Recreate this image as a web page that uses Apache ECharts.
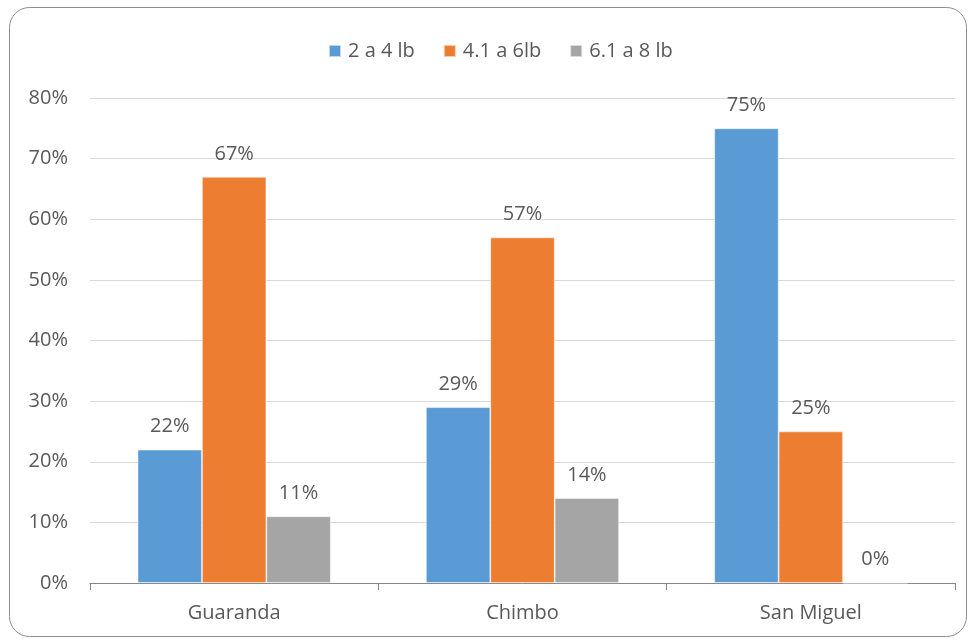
<!DOCTYPE html>
<html>
<head>
<meta charset="utf-8">
<script src="https://cdn.jsdelivr.net/npm/echarts@6/dist/echarts.min.js"></script>
<style>
  html, body { margin: 0; padding: 0; background: #fff; }
  #chart { width: 969px; height: 641px; }
</style>
</head>
<body>
<div id="chart"></div>
<script>
// Weight ranges by canton (share of animals in each range)
const categories = ['Guaranda', 'Chimbo', 'San Miguel'];
const seriesNames = ['2 a 4 lb', '4.1 a 6lb', '6.1 a 8 lb'];
const range2to4 = [22, 29, 75];
const range41to6 = [67, 57, 25];
const range61to8 = [11, 14, 0];
const yTicks = [0, 10, 20, 30, 40, 50, 60, 70, 80];

const colors = ['#5B9BD5', '#ED7D31', '#A5A5A5'];
const textColor = '#595959';
const fontFamily = '"Open Sans", sans-serif';
const fontSize = 20;

const chart = echarts.init(document.getElementById('chart'));

function makeSeries(name, values, color) {
  return {
    name: name,
    type: 'bar',
    data: values,
    barGap: '0%',
    barCategoryGap: '33%',
    itemStyle: { color: color, borderColor: 'rgba(255,255,255,0.6)', borderWidth: 0.8 },
    label: {
      show: true,
      position: 'top',
      distance: 13,
      formatter: p => p.value + '%',
      color: textColor,
      fontSize: fontSize,
      fontFamily: fontFamily
    }
  };
}

chart.setOption({
  animation: false,
  color: colors,
  graphic: [{
    type: 'rect',
    shape: { x: 9.5, y: 7.5, width: 957, height: 629, r: 20 },
    style: { fill: 'none', stroke: '#8c8c8c', lineWidth: 1 },
    silent: true,
    z: -1
  }],
  legend: {
    top: 36,
    left: 323,
    itemWidth: 12,
    itemHeight: 12,
    itemGap: 28,
    icon: 'rect',
    textStyle: { color: textColor, fontSize: fontSize, fontFamily: fontFamily, padding: [0, 0, 0, 2] },
    data: seriesNames
  },
  grid: { left: 90, right: 14, top: 98, bottom: 58 },
  xAxis: {
    type: 'category',
    data: categories,
    axisLine: { lineStyle: { color: '#868686', width: 1 } },
    axisTick: { show: true, length: 7, lineStyle: { color: '#868686' } },
    axisLabel: { color: textColor, fontSize: fontSize, fontFamily: fontFamily, margin: 20 }
  },
  yAxis: {
    type: 'value',
    min: yTicks[0],
    max: yTicks[yTicks.length - 1],
    interval: 10,
    axisLine: { show: false },
    axisTick: { show: false },
    splitLine: { lineStyle: { color: '#D9D9D9', width: 1 } },
    axisLabel: {
      color: textColor, fontSize: fontSize, fontFamily: fontFamily, margin: 22,
      formatter: v => v + '%'
    }
  },
  series: [
    makeSeries(seriesNames[0], range2to4, colors[0]),
    makeSeries(seriesNames[1], range41to6, colors[1]),
    makeSeries(seriesNames[2], range61to8, colors[2])
  ]
});
</script>
</body>
</html>
